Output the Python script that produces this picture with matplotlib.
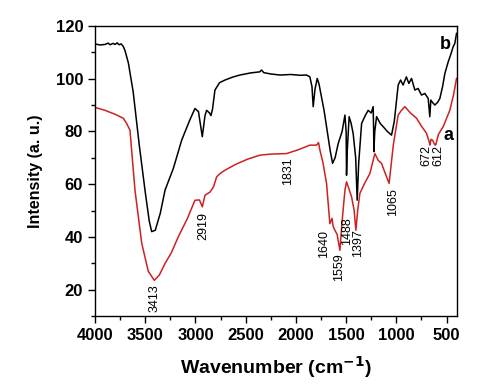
import matplotlib.pyplot as plt

plt.rcParams['font.family'] = ['Liberation Sans', 'DejaVu Sans']
plt.rcParams['font.weight'] = 'bold'

# spectrum b (black)
wn_b = [4000, 3950, 3900, 3870, 3850, 3820, 3800, 3780, 3760, 3740, 3718, 3700, 3668,
        3620, 3560, 3500, 3460, 3436, 3400, 3350, 3303, 3220, 3137, 3060, 3005, 2970,
        2932, 2905, 2889, 2860, 2846, 2830, 2806, 2760, 2706, 2630, 2557, 2450, 2360,
        2342, 2320, 2250, 2159, 2050, 1960, 1894, 1861, 1840, 1828, 1810, 1788, 1770,
        1745, 1720, 1695, 1660, 1635, 1610, 1579, 1540, 1512, 1500, 1496, 1490, 1470,
        1450, 1430, 1405, 1390, 1375, 1346, 1310, 1281, 1250, 1231, 1226, 1224, 1215,
        1197, 1160, 1131, 1090, 1048, 1020, 982, 958, 933, 900, 876, 849, 816, 783,
        750, 716, 683, 667, 657, 640, 617, 590, 567, 540, 517, 484, 460, 435, 418, 401]
int_b = [113.2, 112.8, 113.0, 113.5, 112.9, 113.4, 113.0, 113.6, 112.9, 113.2, 112.2, 110.5, 106,
         95, 75, 57, 46, 42, 42.5, 49, 57.7, 66, 76.7, 84, 88.7, 87.5,
         78, 86, 88, 87, 86, 88.5, 95.7, 98.5, 99.5, 100.6, 101.4, 102.2, 102.6,
         103.3, 102.3, 101.8, 101.4, 101.6, 101.3, 101.4, 100.7, 97, 89.4, 96, 100.1, 98,
         93, 88, 81.8, 73, 67.9, 70, 75.4, 80, 86.2, 80, 63.4, 72, 85.6,
         83, 79.2, 70, 53.9, 68, 83, 86, 88, 87, 89.4, 80, 72.3, 80,
         85.6, 83, 81.8, 80, 78.6, 84, 97.6, 99.5, 97.6, 100.7, 98.2, 100.1, 95.7, 96.3,
         93.8, 94.4, 92.5, 85.6, 91.9, 91, 90, 91, 92.5, 97, 102, 106.4, 109, 112.1, 113.4, 117.2]

# spectrum a (red)
wn_a = [4000, 3900, 3800, 3718, 3685, 3652, 3602, 3535, 3470, 3410, 3360, 3303, 3240,
        3171, 3080, 3005, 2960, 2932, 2905, 2855, 2820, 2789, 2756, 2706, 2600, 2480,
        2358, 2250, 2093, 1980, 1861, 1820, 1794, 1775, 1761, 1730, 1695, 1662, 1640,
        1630, 1612, 1590, 1562, 1540, 1512, 1496, 1470, 1446, 1420, 1403, 1385, 1363,
        1320, 1264, 1214, 1180, 1148, 1110, 1072, 1030, 982, 950, 915, 860, 799, 750,
        700, 672, 667, 655, 640, 625, 612, 607, 580, 534, 500, 468, 430, 401]
int_a = [89.1, 88, 86.5, 85, 83, 80.5, 57.7, 37.6, 27, 23.5, 25.5, 29.9, 34,
         40, 47, 53.9, 54, 51.4, 55.8, 57, 59, 62.8, 64, 65.3, 67.5, 69.5,
         71, 71.4, 71.6, 73, 74.8, 74.8, 74.8, 75.8, 72.9, 68, 60.3, 45, 47,
         44, 42.5, 41, 34.9, 46, 57.7, 60.9, 58, 55.2, 50, 42.5, 50, 56.5,
         60, 64, 71.6, 69, 67.9, 64, 60.3, 75, 86.2, 88, 89.4, 87, 85, 82,
         79.3, 76, 74.8, 77, 76.7, 75.5, 74.8, 75, 79, 81.8, 85, 88, 94, 100.1]

# peak labels: text, x, y (top of rotated text)
peak_text = ['3413', '2919', '1831', '1640', '1559', '1488', '1397', '1065', '672', '612']
peak_x = [3403, 2922, 2083, 1718, 1569, 1490, 1380, 1032, 700, 584]
peak_y = [22.0, 49.5, 70.2, 42.5, 33.8, 47.6, 42.8, 58.4, 74.8, 74.8]

fig = plt.figure(figsize=(4.91, 3.92), dpi=100)
ax = fig.add_axes([0.1935, 0.194, 0.7365, 0.7397])

ax.plot(wn_b, int_b, color='black', lw=1.1)
ax.plot(wn_a, int_a, color='#cc2222', lw=1.1)

for t, x, y in zip(peak_text, peak_x, peak_y):
    ax.text(x, y, t, rotation=90, ha='center', va='top', fontsize=9, fontweight='normal')

ax.text(484, 78.6, 'a', fontsize=13, fontweight='bold', ha='center', va='center')
ax.text(517, 112.8, 'b', fontsize=13, fontweight='bold', ha='center', va='center')

ax.set_xlim(4000, 400)
ax.set_ylim(10, 120)
ax.set_xticks([4000, 3500, 3000, 2500, 2000, 1500, 1000, 500])
ax.set_xticks(range(3750, 400, -500), minor=True)
ax.set_yticks([20, 40, 60, 80, 100, 120])
ax.set_yticks(range(10, 120, 20), minor=True)
ax.tick_params(which='major', direction='out', length=5, width=1, labelsize=12)
ax.tick_params(which='minor', direction='out', length=3, width=1)
for lbl in ax.get_xticklabels() + ax.get_yticklabels():
    lbl.set_fontweight('bold')
for s in ax.spines.values():
    s.set_linewidth(1)

ax.set_xlabel('Wavenumber (cm$^{\\mathbf{-1}}$)', fontsize=14, fontweight='bold', labelpad=8)
ax.set_ylabel('Intensity (a. u.)', fontsize=11.5, fontweight='bold', labelpad=9)

fig.savefig('out.png', dpi=100)
